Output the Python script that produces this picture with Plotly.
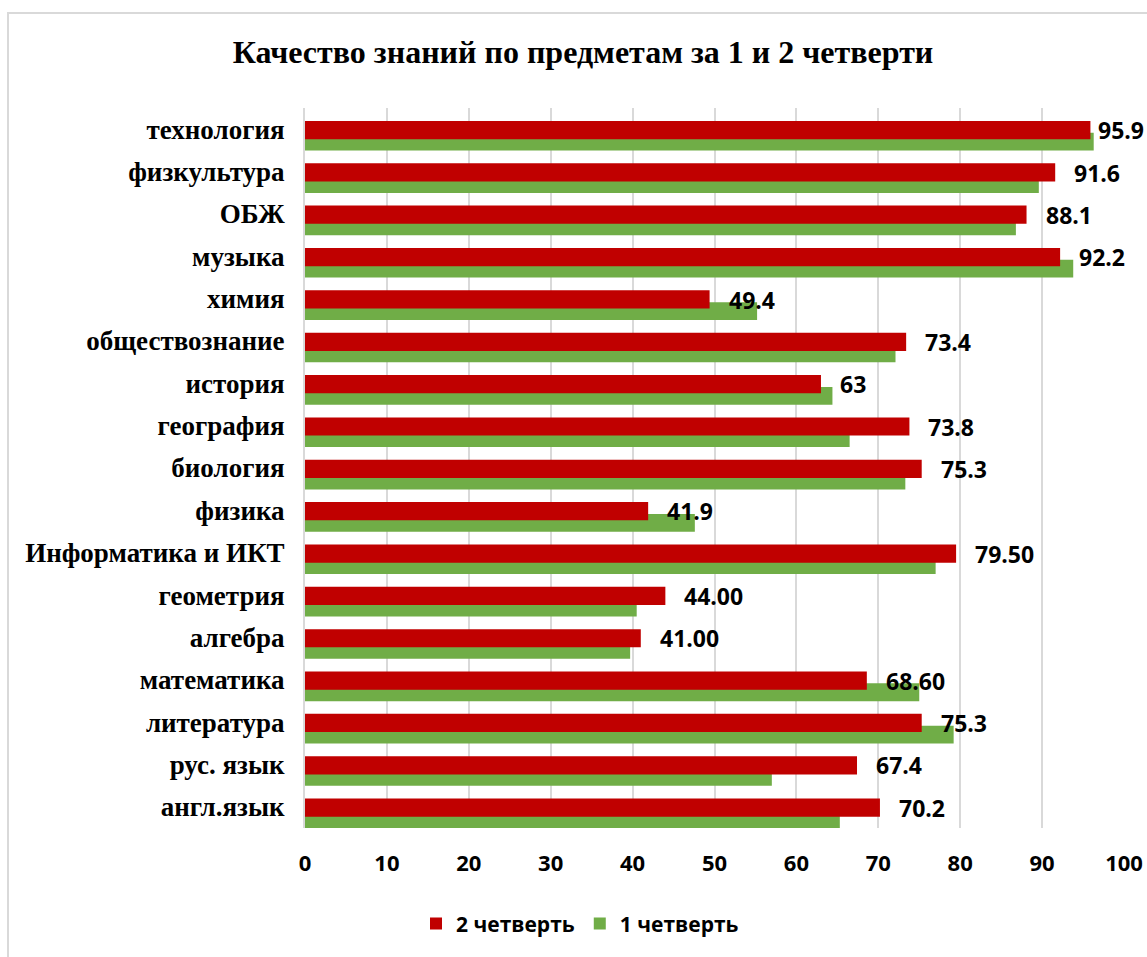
import plotly.graph_objects as go

categories = ["англ.язык", "рус. язык", "литература", "математика", "алгебра", "геометрия",
              "Информатика и ИКТ", "физика", "биология", "география", "история",
              "обществознание", "химия", "музыка", "ОБЖ", "физкультура", "технология"]
q2_values = [70.2, 67.4, 75.3, 68.6, 41.0, 44.0, 79.5, 41.9, 75.3, 73.8, 63.0,
             73.4, 49.4, 92.2, 88.1, 91.6, 95.9]
q2_labels = ["70.2", "67.4", "75.3", "68.60", "41.00", "44.00", "79.50", "41.9", "75.3",
             "73.8", "63", "73.4", "49.4", "92.2", "88.1", "91.6", "95.9"]
q1_values = [65.3, 57.0, 79.2, 75.0, 39.7, 40.5, 77.0, 47.6, 73.3, 66.5, 64.4,
             72.1, 55.2, 93.8, 86.8, 89.6, 96.3]
x_ticks = [0, 10, 20, 30, 40, 50, 60, 70, 80, 90, 100]

title_text = "Качество знаний по предметам за 1 и 2 четверти"
name_q2 = "2 четверть"
name_q1 = "1 четверть"

RED = "#C00000"
GREEN = "#70AD47"
SANS = "Open Sans, Liberation Sans, sans-serif"
SERIF = "Liberation Serif, Times New Roman, serif"

W, H = 1147, 957
L, R, T, B = 305, 23, 108, 129
plot_w = W - L - R

fig = go.Figure()
fig.add_trace(go.Bar(
    y=categories, x=q1_values, orientation="h", name=name_q1,
    marker=dict(color=GREEN, line=dict(width=0)),
    width=0.42, offset=-0.505, legendrank=2, hoverinfo="x+y+name",
))
fig.add_trace(go.Bar(
    y=categories, x=q2_values, orientation="h", name=name_q2,
    marker=dict(color=RED, line=dict(width=0)),
    width=0.43, offset=-0.235, legendrank=1, hoverinfo="x+y+name",
))

for cat, val, lab in zip(categories, q2_values, q2_labels):
    px = L + val / 100 * plot_w
    label_w = 12.5 * len(lab)
    shift = min(17, (W - 1 - label_w) - px)
    fig.add_annotation(
        x=val, y=cat, text=lab, showarrow=False, xanchor="left", yanchor="middle",
        xshift=shift, yshift=-1,
        font=dict(family=SANS, size=23, color="#000000", weight="bold"),
    )

fig.add_shape(
    type="rect", xref="paper", yref="paper",
    x0=(8 - L) / plot_w, x1=1.05, y0=-0.2, y1=(H - B - 13) / (H - T - B),
    line=dict(color="#d9d9d9", width=2), fillcolor="rgba(0,0,0,0)", layer="below",
)

fig.update_layout(
    width=W, height=H,
    margin=dict(l=L, r=R, t=T, b=B, autoexpand=False),
    paper_bgcolor="white", plot_bgcolor="white",
    barmode="overlay",
    title=dict(text=title_text, x=(583 - L) / plot_w, xref="paper", xanchor="center",
               y=1 - 52 / H, yref="container", yanchor="middle",
               font=dict(family=SERIF, size=32, color="#000000", weight="bold")),
    legend=dict(orientation="h", x=(580 - L) / plot_w, xanchor="center",
                y=-0.133, yanchor="middle",
                font=dict(family=SANS, size=21, color="#000000", weight="bold"),
                traceorder="normal"),
    showlegend=True,
)
fig.update_xaxes(
    range=[0, 100], tickvals=x_ticks, showgrid=True, gridcolor="#d9d9d9", gridwidth=2,
    zeroline=False, showline=False, ticks="", ticklabelstandoff=20, automargin=False,
    tickfont=dict(family=SANS, size=22, color="#000000", weight="bold"),
)
fig.update_yaxes(
    type="category", categoryorder="array", categoryarray=categories,
    range=[-0.5, 16.5], showgrid=False, zeroline=False, automargin=False,
    showline=True, linecolor="#d9d9d9", linewidth=2, ticks="", ticklabelstandoff=13,
    tickfont=dict(family=SERIF, size=27, color="#000000", weight="bold"),
)

fig.write_html("out.html", config={"displayModeBar": False},
               post_script="document.body.style.margin='0';")
